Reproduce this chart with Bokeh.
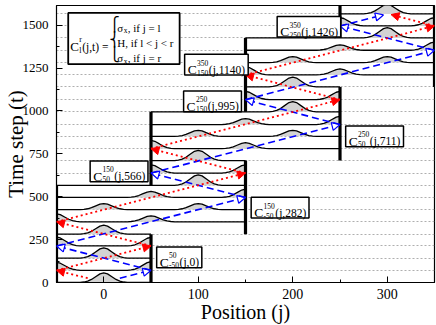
import math
from bokeh.plotting import figure
from bokeh.models import (ColumnDataSource, Range1d, Arrow, NormalHead, BoxAnnotation,
                          Label, FixedTicker, SingleIntervalTicker)
from bokeh.embed import file_html
from bokeh.resources import INLINE

# ---------------- data ----------------
# time step of every snapshot row
row_t = [0, 71, 142, 213, 282, 354, 425, 496, 566, 638, 711, 780, 852,
         921, 995, 1066, 1140, 1210, 1282, 1354, 1426, 1496, 1566]
# lattice walls (l, r) of the snapshot drawn on each row
row_l = [-50] * 5 + [-50] * 4 + [50] * 2 + [50] * 4 + [150] * 2 + [150] * 4 + [250] * 2
row_r = [50] * 5 + [150] * 4 + [150] * 2 + [250] * 4 + [250] * 2 + [350] * 4 + [350] * 2

# wave packets: row index, centre position, peak height (in time-step units)
pk_row = [0, 1, 1, 2, 3, 3, 4, 5, 5, 6, 6, 7, 7, 8, 9, 9, 10, 11, 11, 12, 12,
          13, 13, 14, 15, 15, 16, 17, 17, 18, 18, 19, 19, 20, 21, 21, 22]
pk_j = [0, -50, 50, 0, -50, 50, 0, -50, 50, 0, 100, 50, 150, 100, 50, 150, 100,
        50, 150, 100, 200, 150, 250, 200, 150, 250, 200, 150, 250, 200, 300,
        250, 350, 300, 250, 350, 300]
pk_h = [56, 46, 50, 60, 52, 50, 52, 46, 35, 35, 35, 35, 48, 62, 48, 48, 60,
        48, 35, 35, 35, 35, 48, 60, 48, 48, 58, 48, 35, 35, 35, 32, 48, 60,
        48, 48, 55]
# packet profile (offset in sites, relative height)
prof_dj = [-25, -21, -17, -13, -9, -4, 0, 4, 9, 13, 17, 21, 25]
prof_h = [0, 0.05, 0.14, 0.32, 0.58, 0.9, 1, 0.9, 0.58, 0.32, 0.14, 0.05, 0]

# reflecting walls (thick vertical bars)
wall_j = [-50, 50, 150, 50, 250, 150, 350, 250]
wall_t0 = [0, 0, 282, 566, 711, 995, 1140, 1426]
wall_t1 = [566, 282, 711, 995, 1140, 1426, 1700, 1700]

# trajectories of the right-moving (blue) and left-moving (red) parts
blue_j0 = [17, 50, -50, 150, 50, 250, 150, 350, 250]
blue_t0 = [25, 71, 213, 496, 638, 921, 1066, 1354, 1496]
blue_j1 = [50, -50, 150, 50, 250, 150, 350, 250, 296]
blue_t1 = [71, 213, 496, 638, 921, 1066, 1354, 1496, 1560]
red_j0 = [-17, -50, 50, -50, 150, 50, 250, 150, 350]
red_t0 = [25, 71, 213, 354, 638, 780, 1066, 1210, 1496]
red_j1 = [-50, 50, -50, 150, 50, 250, 150, 350, 304]
red_t1 = [71, 213, 354, 638, 780, 1066, 1210, 1496, 1562]

# coin-operator labels C^{r}_{l}(j, t)
tag_sup = ["50", "150", "150", "250", "250", "350", "350"]
tag_sub = ["-50", "-50", "50", "50", "150", "150", "250"]
tag_time = [0, 282, 566, 711, 995, 1140, 1426]

x_tick_step = 100
y_tick_step = 250
X_MIN, X_MAX = -50, 350

# ---------------- layout ----------------
SERIF = "Liberation Serif"
W, H = 436, 325
B_LEFT, B_RIGHT, B_TOP, B_BOTTOM = 54, 2, 5, 39
T_MAX = 1615
PXX = (W - B_LEFT - B_RIGHT) / float(X_MAX - X_MIN)   # px per site
PXY = (H - B_TOP - B_BOTTOM) / float(T_MAX)           # px per time step

p = figure(width=W, height=H, x_range=Range1d(X_MIN, X_MAX), y_range=Range1d(0, T_MAX),
           output_backend="svg", toolbar_location=None,
           min_border_left=B_LEFT, min_border_right=B_RIGHT, min_border_top=B_TOP,
           min_border_bottom=B_BOTTOM,
           background_fill_color="white", border_fill_color="white")
p.outline_line_color = "black"
p.outline_line_width = 1.2

# grid: one dotted line per snapshot row
p.xgrid.visible = False
p.ygrid.ticker = FixedTicker(ticks=row_t[1:])
p.ygrid.grid_line_color = "#9a9a9a"
p.ygrid.grid_line_dash = "2 2"
p.ygrid.grid_line_width = 0.8

for ax, step in ((p.xaxis, x_tick_step), (p.yaxis, y_tick_step)):
    ax.ticker = SingleIntervalTicker(interval=step, num_minor_ticks=2)
    ax.major_tick_in = 6
    ax.major_tick_out = 0
    ax.minor_tick_in = 3
    ax.minor_tick_out = 0
    ax.axis_line_color = "black"
    ax.major_tick_line_color = "black"
    ax.minor_tick_line_color = "black"
    ax.major_label_text_font = SERIF
    ax.major_label_text_color = "black"
    ax.major_label_text_line_height = 1.0
    ax.axis_label_text_font = SERIF
    ax.axis_label_text_font_style = "normal"
    ax.axis_label_text_color = "black"
    ax.axis_label_text_line_height = 1.0
p.xaxis.major_label_text_font_size = "14px"
p.yaxis.major_label_text_font_size = "13px"
p.xaxis.major_label_standoff = 6
p.yaxis.major_label_standoff = 8
p.xaxis.axis_label = "Position (j)"
p.xaxis.axis_label_text_font_size = "20px"
p.xaxis.axis_label_standoff = -1
p.yaxis.axis_label = "Time step (t)"
p.yaxis.axis_label_text_font_size = "21px"
p.yaxis.axis_label_standoff = -8

# ---------------- snapshot curves ----------------
curve_x, curve_y = [], []
for k, (t, l, r) in enumerate(zip(row_t, row_l, row_r)):
    idx = sorted([i for i, rw in enumerate(pk_row) if rw == k], key=lambda i: pk_j[i])
    xs, ys = [l], [t]
    for i in idx:
        for dj, f in zip(prof_dj, prof_h):
            x = pk_j[i] + dj
            if l <= x <= r:
                xs.append(x)
                ys.append(t + pk_h[i] * f)
    xs.append(r)
    ys.append(t)
    curve_x.append(xs)
    curve_y.append(ys)

p.patches(curve_x, curve_y, fill_color="#d3d3d3", line_color=None)
p.multi_line(curve_x, curve_y, line_color="black", line_width=1.3)
p.segment(x0=wall_j, y0=wall_t0, x1=wall_j, y1=wall_t1, line_color="black", line_width=3.2)

# ---------------- arrows ----------------
blue_src = ColumnDataSource(dict(x0=blue_j0, y0=blue_t0, x1=blue_j1, y1=blue_t1))
red_src = ColumnDataSource(dict(x0=red_j0, y0=red_t0, x1=red_j1, y1=red_t1))
p.add_layout(Arrow(source=blue_src, x_start="x0", y_start="y0", x_end="x1", y_end="y1",
                   line_color="#0000ff", line_width=1.6, line_dash="7 4",
                   end=NormalHead(size=8, fill_color="white", line_color="#0000ff", line_width=1.2)))
p.add_layout(Arrow(source=red_src, x_start="x0", y_start="y0", x_end="x1", y_end="y1",
                   line_color="#ff0000", line_width=1.8, line_dash="2 3",
                   end=NormalHead(size=8, fill_color="#ff0000", line_color="#ff0000", line_width=1)))

# ---------------- text helpers ----------------
CW = {"(": 0.333, ")": 0.333, ",": 0.25, "j": 0.278, "t": 0.278, "-": 0.333, " ": 0.25,
      "=": 0.564, "C": 0.667}


def tw(s, size):
    return sum(CW.get(c, 0.5) for c in s) * size


def put(x, y, text, size, dx=0.0, dy=0.0, font=SERIF, baseline="alphabetic",
        align="left", angle=0.0):
    p.add_layout(Label(x=x, y=y, x_offset=dx, y_offset=dy, text=text, text_font=font,
                       text_font_size="%.1fpx" % size, text_color="black",
                       text_baseline=baseline, text_align=align, angle=angle))


# coin-operator tags (box position = layout)
tag_left = [56, 156, -14.4, 256, 84.5, 85.6, 183.5]
tag_mid = [147, 437, 648, 852, 1056, 1270, 1491]
HALF_H = 10.5 / PXY
for sup, sub, tt, lj, mt in zip(tag_sup, tag_sub, tag_time, tag_left, tag_mid):
    rest = "(j,%d)" % tt
    x_ss = 3 + 0.667 * 13.5 + 0.3
    x_rest = x_ss + max(tw(sup, 7.5), tw(sub, 7.5)) + 0.6
    w = x_rest + tw(rest, 11.5) + 3
    p.add_layout(BoxAnnotation(left=lj, right=lj + w / PXX, bottom=mt - HALF_H, top=mt + HALF_H,
                               fill_color="white", fill_alpha=1.0, line_color="black",
                               line_width=1.5, line_alpha=1.0))
    put(lj, mt, "C", 13.5, dx=3, dy=-5)
    put(lj, mt, sup, 7.5, dx=x_ss, dy=2)
    put(lj, mt, sub, 7.5, dx=x_ss, dy=-8)
    put(lj, mt, rest, 11.5, dx=x_rest, dy=-5)

# definition box
FL, FT = -37.6, 1571.7
p.add_layout(BoxAnnotation(left=FL, right=FL + 112 / PXX, top=FT, bottom=FT - 52 / PXY,
                           fill_color="white", fill_alpha=1.0, line_color="black",
                           line_width=1.8, line_alpha=1.0))
put(FL, FT, "C", 13, dx=2, dy=-34)
put(FL, FT, "r", 8, dx=11, dy=-27)
put(FL, FT, "l", 8, dx=11, dy=-37.5)
put(FL, FT, "(j,t) =", 11.5, dx=14, dy=-34)
for piece, cy in (("\u23a7", -10.7), ("\u23a8", -26), ("\u23a9", -41.3)):
    put(FL, FT, piece, 14, dx=41, dy=cy, font="DejaVu Sans", baseline="middle")
for line_dy, head, tail in ((-15, "\u03c3", ", if j = l"), (-30.5, "H", ", if l < j < r"),
                            (-45.5, "\u03c3", ", if j = r")):
    if head == "H":
        put(FL, FT, "H, if l < j < r", 11, dx=49, dy=line_dy)
    else:
        put(FL, FT, head, 11, dx=49, dy=line_dy)
        put(FL, FT, "x", 7.5, dx=55.5, dy=line_dy - 3)
        put(FL, FT, tail, 11, dx=59.5, dy=line_dy)

open("out.html", "w").write(file_html(p, INLINE))
